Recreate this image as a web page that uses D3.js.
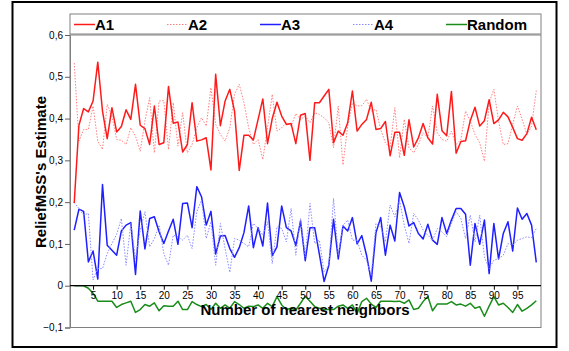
<!DOCTYPE html>
<html>
<head>
<meta charset="utf-8">
<script src="https://cdn.jsdelivr.net/npm/d3@7"></script>
<style>
  body { margin: 0; background: #fff; }
  svg { display: block; font-family: Arial, "Liberation Sans", sans-serif; }
</style>
</head>
<body>
<svg id="chart" width="569" height="351"></svg>
<script>
// neighbours 1..99
const a1 = [0.198,0.384,0.424,0.416,0.442,0.535,0.418,0.352,0.426,0.368,0.381,0.421,0.398,0.482,0.384,0.376,0.338,0.430,0.338,0.342,
  0.477,0.389,0.392,0.320,0.338,0.438,0.346,0.349,0.354,0.277,0.506,0.383,0.442,0.470,0.418,0.276,0.360,0.360,0.349,0.398,
  0.447,0.340,0.400,0.439,0.406,0.386,0.388,0.340,0.408,0.412,0.300,0.438,0.438,0.454,0.470,0.342,0.370,0.360,0.390,0.466,
  0.370,0.386,0.398,0.439,0.374,0.376,0.393,0.311,0.367,0.367,0.312,0.397,0.332,0.354,0.388,0.354,0.339,0.458,0.371,0.359,
  0.465,0.317,0.345,0.347,0.395,0.427,0.382,0.395,0.445,0.388,0.397,0.415,0.404,0.379,0.352,0.348,0.364,0.403,0.373];
const a2 = [0.533,0.346,0.374,0.374,0.430,0.346,0.326,0.434,0.406,0.350,0.348,0.338,0.378,0.358,0.322,0.394,0.450,0.318,0.442,0.443,
  0.326,0.438,0.334,0.414,0.318,0.338,0.378,0.402,0.382,0.474,0.386,0.362,0.346,0.378,0.458,0.482,0.438,0.378,0.338,0.350,
  0.302,0.378,0.458,0.370,0.378,0.390,0.382,0.412,0.398,0.406,0.390,0.414,0.410,0.402,0.390,0.330,0.430,0.289,0.382,0.438,
  0.430,0.431,0.446,0.418,0.422,0.374,0.342,0.330,0.426,0.306,0.398,0.330,0.318,0.338,0.366,0.354,0.430,0.366,0.350,0.346,
  0.370,0.338,0.350,0.418,0.394,0.362,0.342,0.298,0.438,0.470,0.394,0.338,0.340,0.386,0.430,0.398,0.362,0.382,0.467];
const a3 = [0.133,0.183,0.178,0.057,0.083,0.016,0.242,0.097,0.085,0.073,0.131,0.145,0.151,0.027,0.179,0.088,0.161,0.165,0.129,0.101,
  0.131,0.159,0.099,0.197,0.198,0.139,0.237,0.213,0.145,0.178,0.076,0.119,0.120,0.089,0.068,0.091,0.127,0.191,0.091,0.139,
  0.095,0.198,0.072,0.093,0.191,0.139,0.131,0.096,0.155,0.060,0.139,0.139,0.075,0.010,0.049,0.159,0.064,0.143,0.131,0.163,
  0.100,0.120,0.073,0.011,0.127,0.163,0.073,0.145,0.107,0.223,0.189,0.143,0.151,0.125,0.112,0.147,0.109,0.099,0.163,0.125,
  0.157,0.185,0.185,0.171,0.049,0.149,0.099,0.157,0.029,0.149,0.064,0.125,0.153,0.083,0.186,0.159,0.173,0.145,0.056];
const a4 = [0.199,0.185,0.169,0.173,0.014,0.041,0.041,0.077,0.101,0.123,0.161,0.049,0.149,0.065,0.133,0.177,0.093,0.113,0.145,0.077,
  0.049,0.121,0.117,0.109,0.121,0.089,0.177,0.205,0.113,0.153,0.049,0.149,0.089,0.032,0.113,0.109,0.101,0.093,0.149,0.137,
  0.121,0.153,0.053,0.141,0.137,0.105,0.185,0.073,0.161,0.069,0.197,0.101,0.109,0.033,0.049,0.209,0.073,0.145,0.157,0.109,
  0.109,0.073,0.061,0.025,0.149,0.141,0.105,0.193,0.165,0.205,0.145,0.101,0.173,0.157,0.133,0.121,0.109,0.137,0.129,0.117,
  0.149,0.177,0.161,0.113,0.169,0.105,0.169,0.069,0.041,0.061,0.065,0.073,0.101,0.097,0.109,0.113,0.117,0.115,0.137];
const random = [0,0,0,-0.006,-0.018,-0.037,-0.037,-0.037,-0.037,-0.052,-0.045,-0.041,-0.037,-0.064,-0.057,-0.045,-0.049,-0.041,-0.060,-0.048,
  -0.049,-0.049,-0.037,-0.057,-0.057,-0.038,-0.045,-0.050,-0.045,-0.057,-0.042,-0.054,-0.046,-0.054,-0.038,-0.045,-0.054,-0.049,-0.050,-0.046,
  -0.054,-0.042,-0.050,-0.026,-0.046,-0.057,-0.054,-0.058,-0.042,-0.025,-0.037,-0.050,-0.054,-0.057,-0.057,-0.057,-0.049,-0.046,-0.054,-0.046,
  -0.066,-0.038,-0.030,-0.044,-0.052,-0.037,-0.037,-0.037,-0.038,-0.037,-0.042,-0.034,-0.057,-0.054,-0.038,-0.026,-0.060,-0.044,-0.044,-0.044,
  -0.038,-0.046,-0.044,-0.049,-0.042,-0.054,-0.050,-0.073,-0.049,-0.026,-0.046,-0.042,-0.052,-0.064,-0.045,-0.061,-0.054,-0.046,-0.036];

const seriesNames = ['A1', 'A2', 'A3', 'A4', 'Random'];
const xTicks = [5, 10, 15, 20, 25, 30, 35, 40, 45, 50, 55, 60, 65, 70, 75, 80, 85, 90, 95];
const yTicks = [-0.1, 0, 0.1, 0.2, 0.3, 0.4, 0.5, 0.6];

const series = [
  { name: 'A3', values: a3, color: '#1f1fff', width: 1.5, dash: null },
  { name: 'A4', values: a4, color: '#8a8aff', width: 1, dash: '1.5,1.5' },
  { name: 'A2', values: a2, color: '#ff8080', width: 1, dash: '1.5,1.5' },
  { name: 'A1', values: a1, color: '#ff1a1a', width: 1.5, dash: null },
  { name: 'Random', values: random, color: '#1a8c1a', width: 1.5, dash: null }
];
const styleOf = {};
series.forEach(s => styleOf[s.name] = s);

const svg = d3.select('#chart');
const plotL = 70, plotR = 541, plotT = 35, plotB = 327.5;

const x = d3.scaleLinear().domain([0, 100]).range([plotL - 0.5, plotR]);
const y = d3.scaleLinear().domain([-0.1, 0.6]).range([plotB, plotT]);

// outer frame
svg.append('rect')
  .attr('x', 12.5).attr('y', 2).attr('width', 544).attr('height', 345)
  .attr('fill', 'none').attr('stroke', '#000').attr('stroke-width', 2);

// plot frame
svg.append('rect')
  .attr('x', plotL).attr('y', plotT).attr('width', plotR - plotL).attr('height', plotB - plotT)
  .attr('fill', 'none').attr('stroke', '#808080').attr('stroke-width', 1);

// y axis
const fmt = d => d === 0 ? '0' : d3.format('.1f')(d).replace('.', ',');
const yAxis = svg.append('g')
  .attr('transform', `translate(${plotL},0)`)
  .call(d3.axisLeft(y).tickValues(yTicks).tickFormat(fmt).tickSize(5).tickPadding(2));
yAxis.select('.domain').attr('stroke', '#808080');
yAxis.selectAll('.tick line').attr('stroke', '#606060');
yAxis.selectAll('text').attr('font-size', 10).attr('fill', '#000').attr('font-family', 'Arial, "Liberation Sans", sans-serif');

// lines
const line = d3.line().x((d, i) => x(i + 1)).y(d => y(d));
series.forEach(s => {
  svg.append('path')
    .datum(s.values)
    .attr('fill', 'none')
    .attr('stroke', s.color)
    .attr('stroke-width', s.width)
    .attr('stroke-dasharray', s.dash)
    .attr('stroke-linejoin', 'round')
    .attr('d', line);
});

// x axis at zero
const xAxis = svg.append('g')
  .attr('transform', `translate(0,${y(0)})`)
  .call(d3.axisBottom(x).tickValues(xTicks).tickSize(4).tickPadding(2));
xAxis.select('.domain').attr('d', `M${plotL},0H${plotR}`).attr('stroke', '#000').attr('stroke-width', 1.2);
xAxis.selectAll('.tick line').attr('stroke', '#000');
xAxis.selectAll('text').attr('font-size', 10).attr('fill', '#000').attr('font-family', 'Arial, "Liberation Sans", sans-serif');

// axis titles
svg.append('text')
  .attr('x', 305).attr('y', 315)
  .attr('text-anchor', 'middle')
  .attr('font-size', 15).attr('font-weight', 'bold')
  .text('Number of nearest neighbors');

svg.append('text')
  .attr('transform', 'translate(46,172) rotate(-90)')
  .attr('text-anchor', 'middle')
  .attr('font-size', 15).attr('font-weight', 'bold')
  .text("ReliefMSS's Estimate");

// legend
const legend = svg.append('g');
legend.append('rect')
  .attr('x', plotL).attr('y', 14).attr('width', plotR - plotL).attr('height', 20)
  .attr('fill', '#fff').attr('stroke', '#808080');
seriesNames.forEach((name, i) => {
  const s = styleOf[name];
  const lx = 74 + i * 93;
  legend.append('line')
    .attr('x1', lx).attr('x2', lx + 21).attr('y1', 24.5).attr('y2', 24.5)
    .attr('stroke', s.color).attr('stroke-width', s.dash ? 1 : 1.5)
    .attr('stroke-dasharray', s.dash);
  legend.append('text')
    .attr('x', lx + 21).attr('y', 30)
    .attr('font-size', 15).attr('font-weight', 'bold')
    .text(name);
});
</script>
</body>
</html>
